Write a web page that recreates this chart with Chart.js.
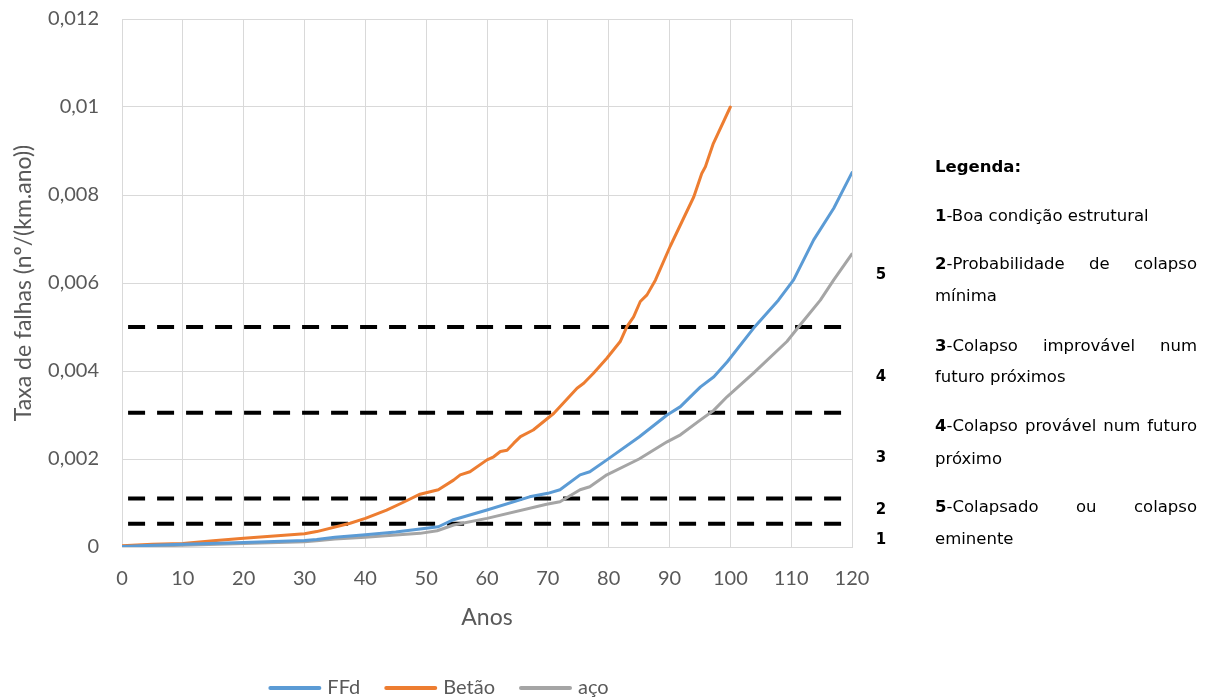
<!DOCTYPE html>
<html>
<head>
<meta charset="utf-8">
<script src="https://cdn.jsdelivr.net/npm/chart.js@4.4.0/dist/chart.umd.min.js"></script>
<style>
  html, body { margin: 0; padding: 0; background: #ffffff; }
  #wrap { width: 1209px; height: 700px; position: relative; }
</style>
</head>
<body>
<div id="wrap"><canvas id="chart"></canvas></div>
<script>
// Axis ticks
const xTickValues = [0, 10, 20, 30, 40, 50, 60, 70, 80, 90, 100, 110, 120];
const yTickLabels = ['0', '0,002', '0,004', '0,006', '0,008', '0,01', '0,012'];

// Failure rate per pipe material (nº/(km.ano)) versus age (anos)
const ffdYears  = [0, 5, 10, 20, 30, 32, 35, 40, 45, 49, 52, 54.5, 60, 67, 70, 72, 75.3, 76.9, 79.7, 85, 89.6, 91.8, 94, 95.1, 97.3, 99.5, 103.8, 107.9, 110.4, 113.7, 117, 120];
const ffdValues = [0.00001, 0.00004, 0.00006, 0.0001, 0.00015, 0.00017, 0.00022, 0.00028, 0.00034, 0.00041, 0.00046, 0.00062, 0.00084, 0.00114, 0.00122, 0.0013, 0.00164, 0.00171, 0.00198, 0.0025, 0.0030, 0.00319, 0.00349, 0.00364, 0.00387, 0.00421, 0.00497, 0.00561, 0.00607, 0.00698, 0.0077, 0.00851];

const betaoYears  = [0, 5, 10, 15, 20, 25, 30, 32, 37.5, 40, 43.5, 46, 49, 52, 54.5, 55.6, 57.2, 60, 61.1, 62.2, 63.3, 64.4, 65.5, 67.6, 71, 74.8, 75.9, 77.5, 79.7, 81.9, 83, 84.1, 85.2, 86.3, 87.7, 90.1, 94, 95.3, 95.9, 97.2, 100];
const betaoValues = [0.00003, 0.00006, 0.00008, 0.00014, 0.0002, 0.00025, 0.0003, 0.00035, 0.00054, 0.00065, 0.00084, 0.001, 0.0012, 0.0013, 0.00152, 0.00164, 0.00171, 0.00198, 0.00205, 0.00217, 0.0022, 0.00236, 0.00251, 0.00266, 0.00304, 0.00361, 0.00372, 0.00395, 0.00429, 0.00467, 0.00501, 0.00523, 0.00558, 0.00573, 0.00607, 0.00683, 0.00796, 0.00849, 0.00864, 0.00917, 0.01];

const acoYears  = [0, 10, 20, 30, 32, 35, 40, 45, 49, 51.8, 54.5, 60, 69.8, 72, 75.3, 76.9, 79.7, 85, 89.6, 91.8, 95.1, 97.3, 99.5, 103.8, 109.3, 111.5, 114.8, 117, 120];
const acoValues = [0, 0.00004, 0.00008, 0.00012, 0.00014, 0.00018, 0.00022, 0.00027, 0.00031, 0.00037, 0.0005, 0.00065, 0.00097, 0.00103, 0.0013, 0.00137, 0.00164, 0.002, 0.00239, 0.00255, 0.00289, 0.00311, 0.00342, 0.00395, 0.00467, 0.00505, 0.00561, 0.00607, 0.00666];

// Condition class limits (dashed reference lines) and their span in years
const thresholdValues = [0.00053, 0.0011, 0.00305, 0.005];
const thresholdSpan = [1, 119];

// Condition class numbers and the rate at which each is labelled
const zoneLabels = ['1', '2', '3', '4', '5'];
const zoneLabelValues = [0.00016, 0.00084, 0.00202, 0.00387, 0.00618];

// Legend text for condition classes
const classLegend = [
  { bold: '', text: 'Legenda:', title: true },
  { bold: '1', text: '-Boa condição estrutural' },
  { bold: '2', text: '-Probabilidade de colapso', justify: true },
  { bold: '',  text: 'mínima' },
  { bold: '3', text: '-Colapso improvável num', justify: true },
  { bold: '',  text: 'futuro próximos' },
  { bold: '4', text: '-Colapso provável num futuro', justify: true },
  { bold: '',  text: 'próximo' },
  { bold: '5', text: '-Colapsado ou colapso', justify: true },
  { bold: '',  text: 'eminente' }
];

const toPoints = (xs, ys) => xs.map((x, i) => ({ x: x, y: ys[i] }));

const seriesDatasets = [
  { label: 'FFd',   data: toPoints(ffdYears, ffdValues),     borderColor: '#5B9BD5' },
  { label: 'Betão', data: toPoints(betaoYears, betaoValues), borderColor: '#ED7D31' },
  { label: 'aço',   data: toPoints(acoYears, acoValues),     borderColor: '#A5A5A5' }
].map(d => Object.assign(d, {
  backgroundColor: d.borderColor, borderWidth: 3, pointRadius: 0, tension: 0,
  borderJoinStyle: 'round', borderCapStyle: 'round', order: 1
}));

const thresholdDatasets = thresholdValues.map(v => ({
  label: 'limite',
  data: thresholdSpan.map(x => ({ x: x, y: v })),
  borderColor: '#000000', backgroundColor: '#000000',
  borderWidth: 4, borderDash: [17, 12], pointRadius: 0, order: 2, isThreshold: true
}));

const TICK_COLOR = '#595959';
const LEGEND_FONT = '"DejaVu Sans", sans-serif';
const LEGEND_SIZE = 16.5;

// Draws the class numbers, the class legend and the series legend
const annotationPlugin = {
  id: 'annotations',
  afterDraw(chart) {
    const ctx = chart.ctx;
    const yScale = chart.scales.y;
    const reg = LEGEND_SIZE + 'px ' + LEGEND_FONT;
    const bold = 'bold ' + LEGEND_SIZE + 'px ' + LEGEND_FONT;
    ctx.save();

    // Class numbers beside the plot
    ctx.fillStyle = '#000000';
    ctx.font = 'bold 15px ' + LEGEND_FONT;
    ctx.textAlign = 'center';
    ctx.textBaseline = 'middle';
    zoneLabels.forEach((t, i) => ctx.fillText(t, 881, yScale.getPixelForValue(zoneLabelValues[i])));

    // Class legend
    const left = 935, right = 1197;
    const rowY = [168, 217, 265, 297, 347, 378, 427, 460, 508, 540];
    ctx.textAlign = 'left';
    classLegend.forEach((row, i) => {
      const y = rowY[i];
      if (row.title) {
        ctx.font = bold;
        ctx.fillText(row.text, left, y);
        return;
      }
      const words = row.text.split(' ');
      ctx.font = bold;
      const boldW = row.bold ? ctx.measureText(row.bold).width : 0;
      ctx.font = reg;
      const widths = words.map(w => ctx.measureText(w).width);
      widths[0] += boldW;
      let gap = ctx.measureText(' ').width;
      if (row.justify && words.length > 1) {
        const sum = widths.reduce((a, b) => a + b, 0);
        gap = (right - left - sum) / (words.length - 1);
      }
      let x = left;
      words.forEach((w, k) => {
        if (k === 0 && row.bold) {
          ctx.font = bold;
          ctx.fillText(row.bold, x, y);
          ctx.font = reg;
          ctx.fillText(w, x + boldW, y);
        } else {
          ctx.fillText(w, x, y);
        }
        x += widths[k] + gap;
      });
    });

    // Series legend below the axis
    ctx.font = '20px Lato, sans-serif';
    const lineLen = 53, textGap = 6, itemGap = 24, cy = 688;
    const items = chart.data.datasets.filter(d => !d.isThreshold);
    const itemW = items.map(d => lineLen + textGap + ctx.measureText(d.label).width);
    const total = itemW.reduce((a, b) => a + b, 0) + itemGap * (items.length - 1);
    let x = 438.5 - total / 2;
    items.forEach((d, i) => {
      ctx.strokeStyle = d.borderColor;
      ctx.lineWidth = 4;
      ctx.lineCap = 'round';
      ctx.beginPath();
      ctx.moveTo(x + 2, cy);
      ctx.lineTo(x + lineLen - 2, cy);
      ctx.stroke();
      ctx.fillStyle = TICK_COLOR;
      ctx.textAlign = 'left';
      ctx.fillText(d.label, x + lineLen + textGap, cy);
      x += itemW[i] + itemGap;
    });
    ctx.restore();
  }
};

new Chart(document.getElementById('chart'), {
  type: 'line',
  data: { datasets: seriesDatasets.concat(thresholdDatasets) },
  options: {
    responsive: true,
    maintainAspectRatio: false,
    animation: false,
    layout: { padding: { left: 0, right: 357, top: 19, bottom: 0 } },
    plugins: { legend: { display: false }, tooltip: { enabled: false } },
    scales: {
      x: {
        type: 'linear', min: 0, max: 120,
        afterBuildTicks: s => { s.ticks = xTickValues.map(v => ({ value: v })); },
        afterFit: s => { s.height = 153; s.paddingLeft = 0; s.paddingRight = 0; },
        grid: { color: '#d9d9d9', lineWidth: 1, drawTicks: false },
        border: { color: '#d9d9d9' },
        ticks: { color: TICK_COLOR, font: { family: 'Lato', size: 20 }, padding: 20, maxRotation: 0 },
        title: { display: true, text: 'Anos', color: TICK_COLOR, font: { family: 'Lato', size: 23 }, padding: { top: 0, bottom: 69 } }
      },
      y: {
        type: 'linear', min: 0, max: 0.012,
        afterBuildTicks: s => { s.ticks = yTickLabels.map((t, i) => ({ value: i * 0.002 })); },
        afterFit: s => { s.width = 122; s.paddingTop = 0; s.paddingBottom = 0; },
        grid: { color: '#d9d9d9', lineWidth: 1, drawTicks: false },
        border: { color: '#d9d9d9' },
        ticks: {
          color: TICK_COLOR, font: { family: 'Lato', size: 20 }, padding: 23,
          callback: (v, i) => yTickLabels[i]
        },
        title: { display: true, text: 'Taxa de falhas (nº/(km.ano))', color: TICK_COLOR, font: { family: 'Lato', size: 23 }, padding: { top: 10, bottom: 0 } }
      }
    }
  },
  plugins: [annotationPlugin]
});
</script>
</body>
</html>
